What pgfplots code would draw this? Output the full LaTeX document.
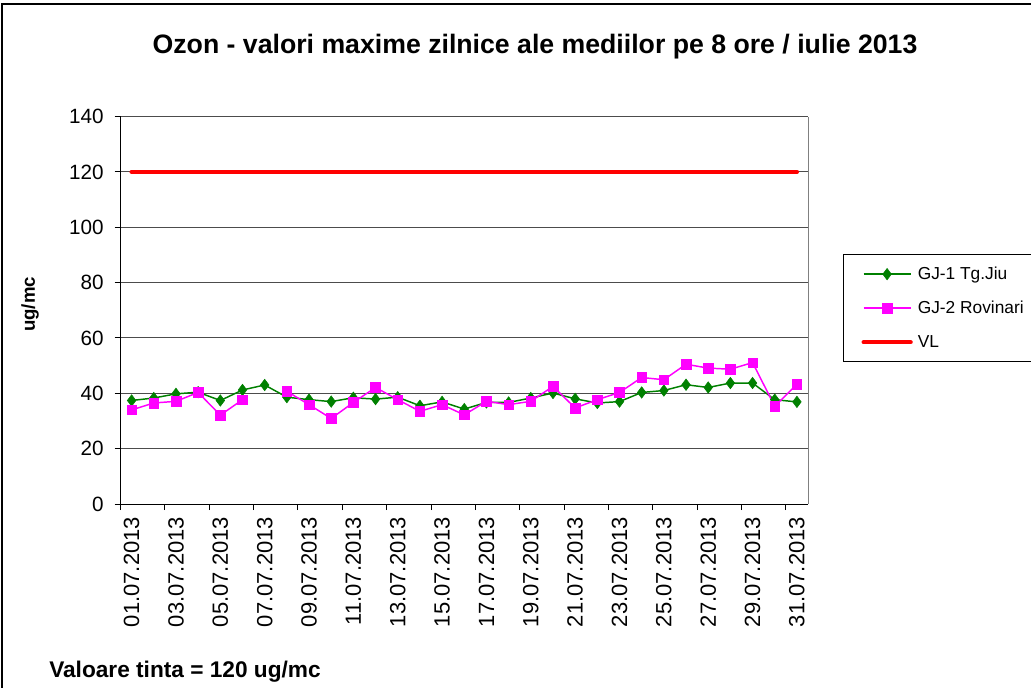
\documentclass[border=0pt]{standalone}
\usepackage{fontspec}
\setmainfont{Liberation Sans}
\usepackage{pgfplots}
\pgfplotsset{compat=1.18}
\definecolor{cgreen}{RGB}{0,128,0}
\definecolor{cpink}{RGB}{255,0,255}
\definecolor{cred}{RGB}{255,0,0}
\begin{document}
\begin{tikzpicture}
\useasboundingbox (0pt,0pt) rectangle (773.25pt,515.25pt);
\fill[white] (0pt,0pt) rectangle (773.25pt,515.25pt);
\draw[black, line width=1pt] (1.5pt,-5pt) -- (1.5pt,512.25pt) -- (800pt,512.25pt);
\node[font=\fontsize{20}{24}\selectfont\bfseries] at (401.25pt,480.5pt) {Ozon - valori maxime zilnice ale mediilor pe 8 ore / iulie 2013};
\node[font=\fontsize{14}{16}\selectfont\bfseries, rotate=90] at (22.5pt,287pt) {ug/mc};
\node[font=\fontsize{17}{20}\selectfont\bfseries, anchor=west, inner sep=0pt] at (36.75pt,11.5pt) {Valoare tinta = 120 ug/mc};
\begin{axis}[
  at={(90.4pt,137.25pt)}, anchor=south west,
  scale only axis, width=515.6pt, height=290.6pt,
  xmin=0.5, xmax=31.5, ymin=0, ymax=140,
  axis lines*=left,
  axis line style={black, line width=0.75pt},
  tick align=outside,
  major tick length=4.5pt,
  xtick={1,3,...,31},
  xticklabels={01.07.2013,03.07.2013,05.07.2013,07.07.2013,09.07.2013,11.07.2013,13.07.2013,15.07.2013,17.07.2013,19.07.2013,21.07.2013,23.07.2013,25.07.2013,27.07.2013,29.07.2013,31.07.2013},
  xtick style={black, line width=0.75pt, xshift=-8.31pt},
  ytick style={black, line width=0.75pt},
  xticklabel style={rotate=90, anchor=east, inner sep=0pt, font=\fontsize{16.5}{19}\selectfont},
  xticklabel shift=5pt,
  ytick={0,20,...,140},
  yticklabel style={anchor=east, inner sep=0pt, font=\fontsize{15.5}{18}\selectfont},
  yticklabel shift=8pt,
  /pgf/number format/assume math mode=true,
  ymajorgrids,
  major grid style={black!70, line width=0.75pt},
  unbounded coords=jump,
  legend cell align=left,
  legend image code/.code={\path (0pt,0pt) (52.5pt,0pt); \draw[mark repeat=2,mark phase=2] plot coordinates {(13.5pt,0pt) (31.1pt,0pt) (48.75pt,0pt)};},
  legend style={at={(1.0509,0.6452)}, anchor=north west, draw=black, line width=0.75pt,
    font=\fontsize{13}{15}\selectfont, inner xsep=0pt, inner ysep=2pt,
    nodes={inner sep=0pt, minimum height=25.5pt}},
  after end axis/.code={\draw[gray, line width=0.75pt] (rel axis cs:1,0) -- (rel axis cs:1,1);},
]
\addplot[color=cgreen, line width=1.1pt, mark=diamond*, mark size=4.3pt, mark options={fill=cgreen, draw=cgreen, line width=0.4pt}] coordinates {
(1,37.4) (2,38.3) (3,39.8) (4,40.4) (5,37.4) (6,41.2) (7,43.0) (8,38.6) (9,37.7) (10,37.0)
(11,38.4) (12,37.9) (13,38.6) (14,35.5) (15,36.9) (16,34.3) (17,36.7) (18,36.7) (19,38.3) (20,40.1)
(21,38.0) (22,36.5) (23,37.0) (24,40.3) (25,41.0) (26,43.1) (27,42.1) (28,43.7) (29,43.7) (30,37.7) (31,36.9)
};
\addlegendentry{\makebox[115pt][l]{GJ-1 Tg.Jiu}}
\addplot[color=cpink, line width=1.1pt, mark=square*, mark size=3.6pt, mark options={fill=cpink, draw=cpink, line width=0.4pt}] coordinates {
(1,34.0) (2,36.5) (3,37.1) (4,40.3) (5,32.1) (6,37.7) (7,nan) (8,40.7) (9,35.9) (10,30.9)
(11,36.7) (12,42.1) (13,37.7) (14,33.5) (15,35.9) (16,32.2) (17,37.1) (18,35.9) (19,37.1) (20,42.5)
(21,34.7) (22,37.7) (23,40.3) (24,45.7) (25,44.9) (26,50.5) (27,49.1) (28,48.7) (29,51.1) (30,35.3) (31,43.3)
};
\addlegendentry{\makebox[115pt][l]{GJ-2 Rovinari}}
\addplot[color=cred, line width=3.2pt, line cap=round, mark=none] coordinates {(1,120) (31,120)};
\addlegendentry{\makebox[115pt][l]{VL}}
\end{axis}
\end{tikzpicture}
\end{document}
